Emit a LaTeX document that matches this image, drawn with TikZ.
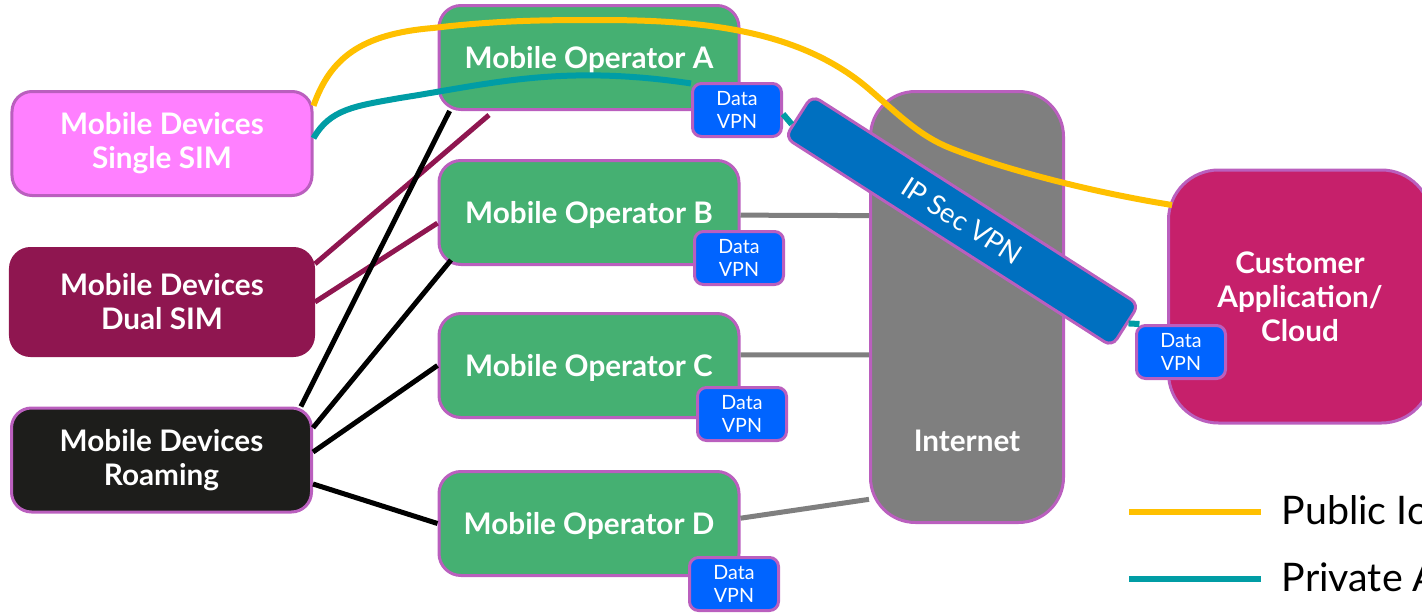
\documentclass[tikz,border=0pt]{standalone}
\usepackage{fontspec}
\setmainfont{Lato}
\definecolor{edgepurple}{HTML}{BA5FBE}
\definecolor{singlepink}{HTML}{FF80FF}
\definecolor{dualwine}{HTML}{8F1650}
\definecolor{roamblack}{HTML}{1D1D1B}
\definecolor{opgreen}{HTML}{45B072}
\definecolor{vpnblue}{HTML}{0064FF}
\definecolor{tunnelblue}{HTML}{0070C0}
\definecolor{cloudred}{HTML}{C6206B}
\definecolor{netgray}{HTML}{7F7F7F}
\definecolor{pubyellow}{HTML}{FFC000}
\definecolor{privteal}{HTML}{009DA5}
\begin{document}
\begin{tikzpicture}[
                box/.style = {draw = edgepurple, line width = 0.3mm, align = center, text = white, inner sep = 0mm},
                heavy/.style = {font = \fontsize{8.45}{9.7}\selectfont\bfseries},
                nudge/.style = {execute at begin node = \rule{0pt}{#1}},
                dev/.style = {box, heavy, rounded corners = 2mm, minimum width = 3cm, minimum height = 1.04cm},
                oper/.style = {box, heavy, nudge = 0.27cm, fill = opgreen, rounded corners = 2.2mm, minimum width = 3cm, minimum height = 1.04cm},
                vpn/.style = {box, fill = vpnblue, rounded corners = 0.9mm, minimum width = 0.89cm, minimum height = 0.53cm, font = \fontsize{5.6}{6.3}\selectfont},
                wire/.style = {draw, line width = 0.5mm},
                pub/.style = {draw = pubyellow, line width = 0.6mm},
                priv/.style = {draw = privteal, line width = 0.6mm},
                legend/.style = {anchor = west, inner sep = 0mm, font = \fontsize{11.2}{13}\selectfont},
            ]
            \useasboundingbox (0,0) rectangle (14.22,6.14);

            \node (single) [dev, nudge = 0.4cm, fill = singlepink] at (1.62,4.705){Mobile Devices\\Single SIM};
            \node (dual) [dev, fill = dualwine, draw = dualwine, minimum width = 3.03cm, minimum height = 1.07cm] at (1.62,3.12){Mobile Devices\\Dual SIM};
            \node (roam) [dev, nudge = 0.38cm, fill = roamblack] at (1.615,1.54){Mobile Devices\\Roaming};

            \node (opA) [oper] at (5.89,5.565){Mobile Operator A};
            \node (opB) [oper] at (5.89,4.015){Mobile Operator B};
            \node (opC) [oper] at (5.89,2.485){Mobile Operator C};
            \node (opD) [oper] at (5.89,0.905){Mobile Operator D};

            \node (inet) [box, fill = netgray, rounded corners = 4.5mm, minimum width = 1.93cm, minimum height = 4.31cm] at (9.67,3.07){};
            \node (inetname) [text = white, heavy] at (9.67,1.73){Internet};
            \node (cloud) [box, heavy, fill = cloudred, rounded corners = 5mm, minimum width = 2.63cm, minimum height = 2.53cm] at (13,3.175){Customer\\Application/\\Cloud};

            \coordinate (opAout) at (4.89,4.99);
            \coordinate (opBin) at (4.51,3.54);
            \coordinate (cloudin) at (11.72,4.09);

            \path[wire, draw = dualwine] (dual.14) -- (opAout);
            \path[wire, draw = dualwine] (dual.0) -- (opB.184);
            \path[wire, draw = black] (roam.21) -- (opA.201);
            \path[wire, draw = black] (roam.12.3) -- (opBin);
            \path[wire, draw = black] (roam.3.4) -- (opC.180);
            \path[wire, draw = black] (roam.-9.4) -- (opD.180);

            \path[wire, draw = netgray] (opB.-1) -- (inet.137.1);
            \path[wire, draw = netgray] (opC.4.7) -- (inet.206.8);
            \path[wire, draw = netgray] (opD.2.5) -- (inet.243.1);

            \node (vpnA) [vpn] at (7.37,5.04){Data\\VPN};
            \node (vpnB) [vpn] at (7.39,3.56){Data\\VPN};
            \node (vpnC) [vpn] at (7.42,2.00){Data\\VPN};
            \node (vpnD) [vpn] at (7.34,0.30){Data\\VPN};
            \node (vpnCloud) [vpn] at (11.81,2.62){Data\\VPN};
            \node (tunnel) [box, fill = tunnelblue, rounded corners = 0.9mm, minimum width = 3.88cm, minimum height = 0.5cm, rotate = -32.6, font = \fontsize{7.8}{9}\selectfont] at (9.62,3.93){IP Sec VPN};

            \path[priv] (single.2) .. controls (3.30,5.05) and (3.55,5.08) .. (4.00,5.16) .. controls (4.90,5.30) and (5.60,5.50) .. (vpnA.150);
            \path[priv] (vpnA.-5) -- (tunnel.183);
            \path[priv] (tunnel.1.8) -- (vpnCloud.146);
            \path[pub] (single.14) .. controls (3.30,5.55) and (3.60,5.80) .. (4.33,5.86) .. controls (5.00,5.94) and (5.50,5.94) .. (6.00,5.94) .. controls (7.00,5.94) and (8.00,5.85) .. (8.70,5.24) .. controls (9.00,4.98) and (9.20,4.78) .. (9.50,4.66) .. controls (10.00,4.46) and (10.90,4.22) .. (cloudin);

            \coordinate (pubL) at (11.29,1.02);
            \coordinate (pubR) at (12.61,1.02);
            \coordinate (privL) at (11.29,0.35);
            \coordinate (privR) at (12.61,0.35);
            \path[pub] (pubL) -- (pubR);
            \path[priv] (privL) -- (privR);
            \node (pubtext) [legend] at (12.81,1.04){Public Io};
            \node (privtext) [legend] at (12.81,0.37){Private A};
        \end{tikzpicture}
\end{document}
